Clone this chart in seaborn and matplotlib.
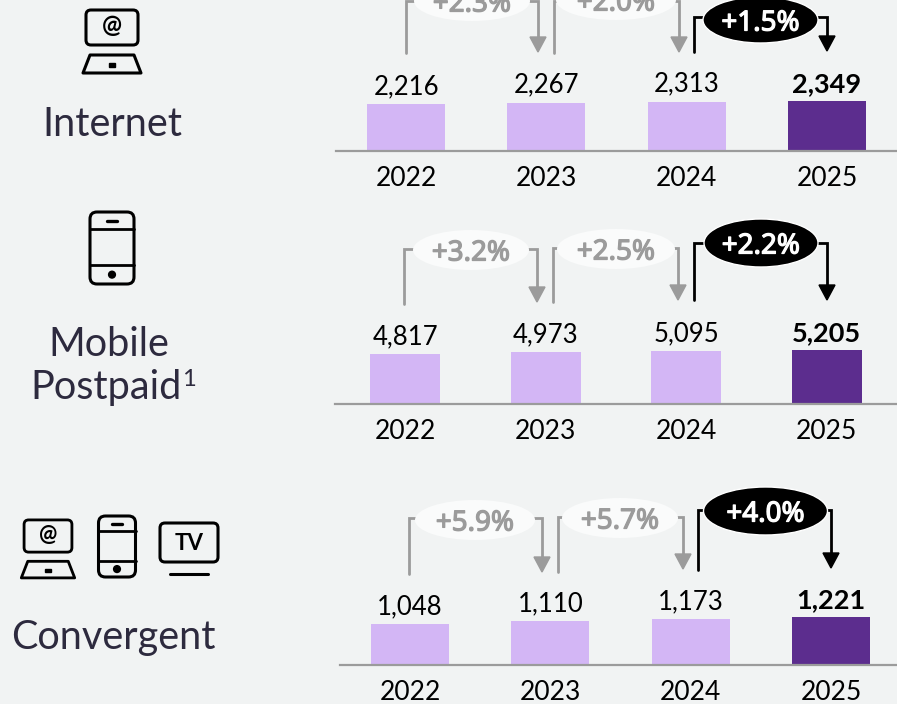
"""
Subscriber growth panels: internet, mobile postpaid and convergent.
"""

import matplotlib
matplotlib.use("Agg")
import matplotlib.pyplot as plt
import matplotlib.patheffects as pe
from matplotlib.patches import Ellipse, FancyBboxPatch, Polygon, Circle
import pandas as pd
import seaborn as sns

years = ["2022", "2023", "2024", "2025"]
internet_values = [2216, 2267, 2313, 2349]
mobile_values = [4817, 4973, 5095, 5205]
convergent_values = [1048, 1110, 1173, 1221]
internet_growth = ["+2.3%", "+2.0%", "+1.5%"]
mobile_growth = ["+3.2%", "+2.5%", "+2.2%"]
convergent_growth = ["+5.9%", "+5.7%", "+4.0%"]

W, H = 897, 704
BG = "#f1f3f3"
LIGHT = "#d3b6f5"
DARK = "#5c2d8e"
GREY = "#9b9b9b"
INK = "#2d2a3e"

sns.set_theme(style="white", rc={"figure.facecolor": BG, "axes.facecolor": "none"})
plt.rcParams["font.family"] = ["Lato", "DejaVu Sans"]

fig = plt.figure(figsize=(W / 100, H / 100), dpi=100, facecolor=BG)

# overlay in pixel coordinates for brackets and icons
ov = fig.add_axes([0, 0, 1, 1], zorder=5)
ov.set_xlim(0, W)
ov.set_ylim(H, 0)
ov.axis("off")


def bar_panel(values, left, right, base, scale, width):
    ax = fig.add_axes([left / W, (H - base) / H, (right - left) / W, 110 / H])
    df = pd.DataFrame({"year": years, "value": values})
    sns.barplot(data=df, x="year", y="value", hue="year",
                palette=[LIGHT, LIGHT, LIGHT, DARK], width=width,
                legend=False, ax=ax, saturation=1, linewidth=0)
    ax.set_xlim(-0.5, 3.5)
    ax.set_ylim(0, 110 / scale)
    ax.set_xlabel("")
    ax.set_ylabel("")
    ax.set_yticks([])
    sns.despine(ax=ax, left=True)
    ax.spines["bottom"].set_color(GREY)
    ax.spines["bottom"].set_linewidth(1.6)
    ax.tick_params(axis="x", length=0, pad=11, labelsize=19, colors="black")
    for i, c in enumerate(ax.containers):
        bold = i == 3
        labels = ax.bar_label(c, labels=[f"{values[i]:,}"], padding=3.5,
                              fontsize=19.5 if bold else 18.5, color="black")
        if bold:
            labels[0].set_fontweight("bold")
    return ax


def bracket(x0, y0, x1, y1, ytop, cx, cy, rx, ry, label, dark=False):
    col = "black" if dark else GREY
    txt = "white" if dark else GREY
    lw = 2.0
    ov.plot([x0, x0, cx], [y0, ytop, ytop], color=col, lw=lw, solid_joinstyle="miter", zorder=1)
    ov.plot([cx, x1, x1], [ytop, ytop, y1 - 14], color=col, lw=lw, solid_joinstyle="miter", zorder=1)
    ov.add_patch(Polygon([[x1 - 8, y1 - 15], [x1 + 8, y1 - 15], [x1, y1]], color=col, zorder=1))
    ov.add_patch(Ellipse((cx, cy), rx * 2, ry * 2, facecolor="black" if dark else "#fafbfb",
                         edgecolor="white" if dark else "none", lw=1, zorder=2))
    ov.text(cx, cy, label, ha="center", va="center_baseline", fontsize=20, color=txt,
            family=["Noto Sans", "DejaVu Sans"], zorder=3,
            path_effects=[pe.withStroke(linewidth=0.9, foreground=txt)])


def pc_icon(cx, top, s=1.0):
    ink = "black"
    ov.add_patch(FancyBboxPatch((cx - 26 * s, top + 1 * s), 52 * s, 35 * s,
                                boxstyle=f"round,pad=0,rounding_size={5 * s}", fc="none", ec=ink, lw=2.2 * s))
    ov.text(cx, top + 17 * s, "@", ha="center", va="center", fontsize=17 * s, fontweight="bold", color=ink)
    ov.add_patch(Polygon([[cx - 22 * s, top + 46 * s], [cx + 22 * s, top + 46 * s], [cx + 29 * s, top + 64 * s],
                          [cx - 29 * s, top + 64 * s]], closed=True, fc="none", ec=ink, lw=2.2 * s,
                         joinstyle="round"))
    ov.add_patch(plt.Rectangle((cx - 3 * s, top + 54 * s), 6 * s, 4 * s, color=ink))


def phone_icon(cx, top, w=44, h=72):
    ink = "black"
    ov.add_patch(FancyBboxPatch((cx - w / 2, top), w, h, boxstyle="round,pad=0,rounding_size=7",
                                fc="none", ec=ink, lw=2.2))
    ov.plot([cx - w / 2, cx + w / 2], [top + h * 0.24] * 2, color=ink, lw=2.0)
    ov.plot([cx - w / 2, cx + w / 2], [top + h * 0.73] * 2, color=ink, lw=2.0)
    ov.plot([cx - 5, cx + 5], [top + h * 0.13] * 2, color=ink, lw=2.4)
    ov.add_patch(Circle((cx, top + h * 0.87), 3.4, color=ink))


def tv_icon(cx, top):
    ink = "black"
    ov.add_patch(FancyBboxPatch((cx - 29, top), 58, 39, boxstyle="round,pad=0,rounding_size=5",
                                fc="none", ec=ink, lw=2.2))
    ov.text(cx, top + 20, "TV", ha="center", va="center", fontsize=16, fontweight="bold", color=ink)
    ov.plot([cx - 19, cx + 19], [top + 51] * 2, color=ink, lw=2.2)


bar_panel(internet_values, 336, 897, 151, 0.02135, 0.556)
bar_panel(mobile_values, 335, 897, 404, 0.01038, 0.5)
bar_panel(convergent_values, 340, 901, 665, 0.0392, 0.556)

bracket(406, 53, 538, 52, 1, 472, 1, 58, 20, internet_growth[0])
bracket(554, 53, 679, 52, 1, 616, 0, 60, 20, internet_growth[1])
bracket(694, 52, 827, 51, 17, 760.5, 20, 57.5, 23, internet_growth[2], dark=True)

bracket(404, 304, 537, 302, 249, 471, 250, 58, 20, mobile_growth[0])
bracket(553, 302, 678, 300, 248, 616, 249, 59, 20, mobile_growth[1])
bracket(694, 300, 827, 300, 243, 761, 243, 57, 24, mobile_growth[2], dark=True)

bracket(409, 574, 542, 572, 518, 475, 520, 60, 20, convergent_growth[0])
bracket(558, 572, 683, 569, 517, 620, 518, 58, 20, convergent_growth[1])
bracket(698, 570, 831, 568, 510, 765.5, 511, 62, 24, convergent_growth[2], dark=True)

pc_icon(112, 9)
phone_icon(112, 212)
pc_icon(48, 519, 0.92)
phone_icon(117, 516, w=37, h=61)
tv_icon(189, 523)

ov.text(112, 124, "Internet", ha="center", va="center", fontsize=28.5, color=INK)
ov.text(109, 344, "Mobile", ha="center", va="center", fontsize=28.5, color=INK)
ov.text(30, 387, "Postpaid", ha="left", va="center", fontsize=28.5, color=INK)
ov.text(182, 380, "1", ha="left", va="center", fontsize=17, color=INK)
ov.text(113, 637, "Convergent", ha="center", va="center", fontsize=28.5, color=INK)

fig.savefig("out.png", dpi=100, facecolor=BG)
